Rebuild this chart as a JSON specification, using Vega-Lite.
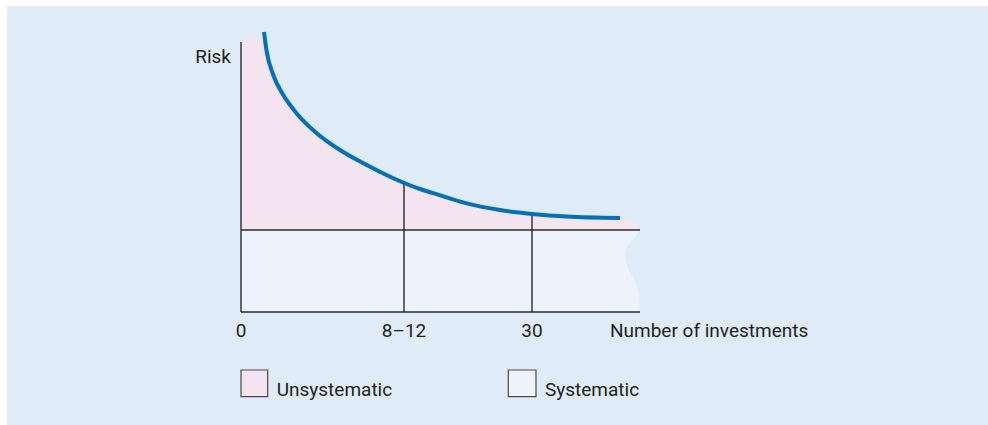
{
  "$schema": "https://vega.github.io/schema/vega-lite/v6.json",
  "width": 988,
  "height": 425,
  "autosize": {"type": "fit", "contains": "padding"},
  "padding": {"left": 7, "top": 6, "right": 0, "bottom": 0},
  "background": "white",
  "config": {
    "view": {"fill": "#dfebf7", "stroke": null},
    "text": {"font": "Roboto", "fontSize": 19, "color": "#231f20"}
  },
  "encoding": {
    "x": {"field": "x", "type": "quantitative", "axis": null,
          "scale": {"domain": [-23.4, 74.7], "nice": false, "zero": false}},
    "y": {"field": "risk", "type": "quantitative", "axis": null,
          "scale": {"domain": [-37.667, 102], "nice": false, "zero": false}}
  },
  "layer": [
    {
      "description": "Unsystematic risk: the band between the total-risk curve and the systematic level",
      "data": {"values": [
        {"x": 0, "risk": 91, "floor": 27.33},
        {"x": 2.4, "risk": 91, "floor": 27.33},
        {"x": 2.57, "risk": 86.8, "floor": 27.33},
        {"x": 3.23, "risk": 79.0, "floor": 27.33},
        {"x": 4.23, "risk": 72.3, "floor": 27.33},
        {"x": 5.57, "risk": 66.2, "floor": 27.33},
        {"x": 7.57, "risk": 59.6, "floor": 27.33},
        {"x": 9.9, "risk": 54.0, "floor": 27.33},
        {"x": 12.57, "risk": 49.0, "floor": 27.33},
        {"x": 15.23, "risk": 44.6, "floor": 27.33},
        {"x": 17.9, "risk": 41.0, "floor": 27.33},
        {"x": 19.23, "risk": 39.6, "floor": 27.33},
        {"x": 22.57, "risk": 36.2, "floor": 27.33},
        {"x": 25.9, "risk": 34.0, "floor": 27.33},
        {"x": 29.1, "risk": 32.7, "floor": 27.33},
        {"x": 32.57, "risk": 31.8, "floor": 27.33},
        {"x": 37.9, "risk": 31.3, "floor": 27.33},
        {"x": 38.6, "risk": 30.6, "floor": 27.33},
        {"x": 39.9, "risk": 29.0, "floor": 27.33}
      ]},
      "mark": {"type": "area", "color": "#f3e4f0", "interpolate": "monotone"},
      "encoding": {"y2": {"field": "floor"}}
    },
    {
      "description": "Systematic risk band, with a torn right-hand edge",
      "data": {"values": [
        {"risk": 27.33, "x": 39.9, "x0": 0},
        {"risk": 25.33, "x": 39.5, "x0": 0},
        {"risk": 22.33, "x": 38.7, "x0": 0},
        {"risk": 18.33, "x": 38.45, "x0": 0},
        {"risk": 14.67, "x": 38.7, "x0": 0},
        {"risk": 10.67, "x": 39.3, "x0": 0},
        {"risk": 6.67, "x": 39.75, "x0": 0},
        {"risk": 0, "x": 39.9, "x0": 0}
      ]},
      "mark": {"type": "area", "orient": "horizontal", "color": "#ecf3fb", "interpolate": "monotone"},
      "encoding": {"x2": {"field": "x0"}}
    },
    {
      "description": "Axes, the systematic-risk level and the two markers",
      "data": {"values": [
        {"x": 0, "risk": 0, "x2": 0, "risk2": 90},
        {"x": 0, "risk": 0, "x2": 39.9, "risk2": 0},
        {"x": 0, "risk": 27.33, "x2": 39.9, "risk2": 27.33},
        {"x": 16.3, "risk": 0, "x2": 16.3, "risk2": 43.0},
        {"x": 29.1, "risk": 0, "x2": 29.1, "risk2": 32.7}
      ]},
      "mark": {"type": "rule", "color": "#2b2b2b", "strokeWidth": 1.4},
      "encoding": {"x2": {"field": "x2"}, "y2": {"field": "risk2"}}
    },
    {
      "description": "Total risk as the number of investments grows",
      "data": {"values": [
        {"x": 2.3, "risk": 93.3},
        {"x": 2.57, "risk": 86.8},
        {"x": 3.23, "risk": 79.0},
        {"x": 4.23, "risk": 72.3},
        {"x": 5.57, "risk": 66.2},
        {"x": 7.57, "risk": 59.6},
        {"x": 9.9, "risk": 54.0},
        {"x": 12.57, "risk": 49.0},
        {"x": 15.23, "risk": 44.6},
        {"x": 17.9, "risk": 41.0},
        {"x": 19.23, "risk": 39.6},
        {"x": 22.57, "risk": 36.2},
        {"x": 25.9, "risk": 34.0},
        {"x": 29.1, "risk": 32.7},
        {"x": 32.57, "risk": 31.8},
        {"x": 37.9, "risk": 31.3}
      ]},
      "mark": {"type": "line", "color": "#0071bc", "strokeWidth": 4, "interpolate": "monotone", "strokeCap": "butt"}
    },
    {
      "description": "Legend swatches",
      "data": {"values": [
        {"kind": "Unsystematic", "x": 0, "x2": 2.67, "risk": -19.33, "risk2": -28.23},
        {"kind": "Systematic", "x": 26.73, "x2": 29.5, "risk": -19.33, "risk2": -28.23}
      ]},
      "mark": {"type": "rect", "stroke": "#4a4a4a", "strokeWidth": 1.2},
      "encoding": {
        "x2": {"field": "x2"},
        "y2": {"field": "risk2"},
        "fill": {"field": "kind", "type": "nominal", "legend": null,
                 "scale": {"domain": ["Unsystematic", "Systematic"], "range": ["#f3e4f0", "#ecf3fb"]}}
      }
    },
    {
      "description": "Axis title for risk",
      "data": {"values": [{"x": -1.0, "risk": 83, "label": "Risk"}]},
      "mark": {"type": "text", "align": "right", "baseline": "alphabetic"},
      "encoding": {"text": {"field": "label"}}
    },
    {
      "description": "Tick labels on the investments axis",
      "data": {"values": [
        {"x": 0, "risk": -8.33, "label": "0"},
        {"x": 16.3, "risk": -8.33, "label": "8–12"},
        {"x": 29.1, "risk": -8.33, "label": "30"}
      ]},
      "mark": {"type": "text", "align": "center", "baseline": "alphabetic"},
      "encoding": {"text": {"field": "label"}}
    },
    {
      "description": "Axis title and legend labels",
      "data": {"values": [
        {"x": 36.9, "risk": -8.33, "label": "Number of investments"},
        {"x": 3.57, "risk": -28.0, "label": "Unsystematic"},
        {"x": 30.4, "risk": -28.0, "label": "Systematic"}
      ]},
      "mark": {"type": "text", "align": "left", "baseline": "alphabetic"},
      "encoding": {"text": {"field": "label"}}
    }
  ]
}
